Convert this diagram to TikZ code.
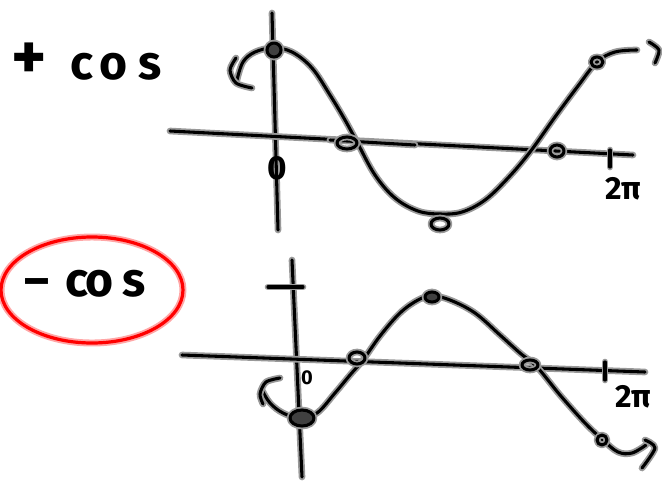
\documentclass[tikz,border=0pt]{standalone}
\usepackage{fontspec}
\setmainfont{Fira Sans}
\begin{document}
\begin{tikzpicture}[x=0.75pt,y=-0.75pt,
  pen/.style={draw=black,line width=2.3pt,line cap=round,line join=round,
    preaction={draw=black!40,line width=5pt,line cap=round,line join=round}},
  dot/.style={pen,fill=black!75},
  redpen/.style={draw=red,line width=2.4pt,
    preaction={draw=red!35,line width=5.2pt}},
  hand/.style={inner sep=0pt,text=black,font=\bfseries}]
\useasboundingbox (0,0) rectangle (662,480);

% ---------- top: + cos ----------
\node[hand,anchor=base west] (tlabel) at (11,79)
  {\fontsize{50}{50}\selectfont +\fontsize{36}{36}\selectfont\ \kern0.25em c\kern0.14em o\kern0.22em s};

\draw[pen] (272,13) -- (278,230);
\draw[pen] (170,131) -- (633,155);
\draw[pen] (330,140) -- (415,145);
\draw[pen] (610,150) -- (610,167);
\node[hand,font=\bfseries\fontsize{24}{24}\selectfont] (ttwopi) at (623,189) {2π};
\node[hand,font=\bfseries\fontsize{25}{25}\selectfont] (tzero) at (277,168) {0};

\draw[pen] plot[smooth,tension=0.6] coordinates {(237,80) (243,62) (255,52) (273,48)
  (292,52) (312,68) (330,95) (345,120) (357,142) (375,175) (395,198) (418,211)
  (440,214) (462,212) (485,200) (508,178) (530,152) (555,117) (578,86) (597,62)
  (615,52) (637,50)};
\draw[pen] plot[smooth] coordinates {(236,58) (230,70) (236,83) (252,88)};
\draw[pen] plot[smooth] coordinates {(649,42) (659,50) (655,63)};

\draw[dot] (274,50) ellipse [x radius=7, y radius=7];
\draw[pen] (347,143) ellipse [x radius=10, y radius=6];
\draw[pen] (440,224) ellipse [x radius=9, y radius=6];
\draw[pen] (557,151) ellipse [x radius=7, y radius=6];
\draw[pen] (597,62) ellipse [x radius=6, y radius=5];

% ---------- bottom: - cos ----------
\draw[redpen] (92,290) ellipse [x radius=91, y radius=53];
\node[hand,anchor=base west,font=\bfseries\fontsize{36}{36}\selectfont] (blabel) at (24,296)
  {–\kern0.1em{} c\kern-0.06em o\kern0.18em s};

\draw[pen] (292,260) -- (302,477);
\draw[pen] (268,287) -- (303,287);
\draw[pen] (182,355) -- (645,372);
\draw[pen] (605,362) -- (605,380);
\node[hand,font=\bfseries\fontsize{24}{24}\selectfont] (btwopi) at (633,397) {2π};
\node[hand,font=\bfseries\fontsize{15}{15}\selectfont] (bzero) at (307,378) {0};

\draw[pen] plot[smooth,tension=0.6] coordinates {(262,390) (270,403) (283,413) (300,418)
  (317,413) (335,393) (350,375) (363,360) (380,336) (400,313) (418,300) (432,296)
  (450,300) (475,313) (500,335) (520,353) (537,367) (560,395) (585,423) (603,440)
  (618,452) (632,453) (646,445)};
\draw[pen] plot[smooth] coordinates {(280,378) (266,382) (260,394) (263,404)};
\draw[pen] plot[smooth] coordinates {(645,440) (655,448) (642,468)};

\draw[dot] (302,418) ellipse [x radius=12, y radius=8];
\draw[pen] (357,358) ellipse [x radius=8, y radius=6];
\draw[dot] (432,297) ellipse [x radius=7, y radius=5];
\draw[pen] (530,365) ellipse [x radius=8, y radius=5];
\draw[pen] (602,440) ellipse [x radius=5, y radius=5];
\end{tikzpicture}
\end{document}
